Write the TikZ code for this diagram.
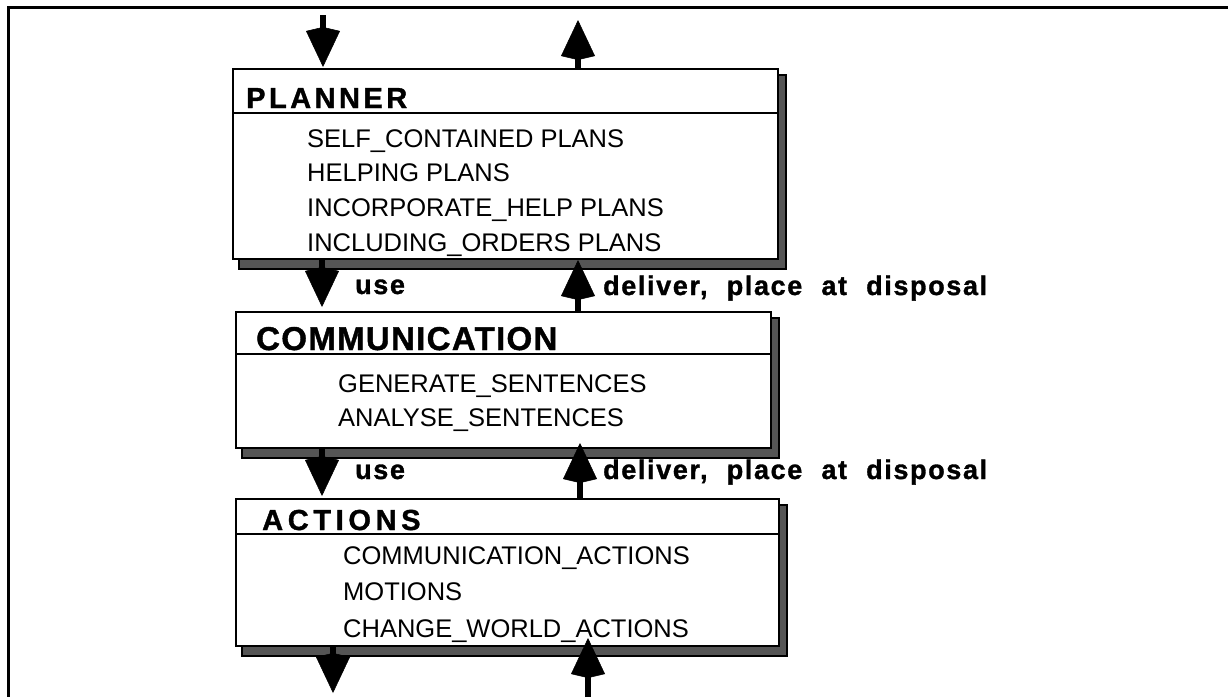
\documentclass[tikz,border=0pt]{standalone}
\usepackage{fontspec}
\setmainfont{Liberation Sans}
\newfontfamily\flowfont[LetterSpace=6,WordSpace=2.1,FakeBold=1.2]{Liberation Sans}
\usetikzlibrary{arrows.meta,calc,backgrounds}

% header of a layer box: size and letter spacing
\newcommand\layerhead[3]{\bfseries\fontsize{#1}{#1}\selectfont\addfontfeatures{LetterSpace=#2,FakeBold=1.2}#3}
% entries listed inside a layer box
\newcommand\layeritem{\fontsize{25.5}{30}\selectfont}
% labels beside the flow arrows
\newcommand\flowlabel{\flowfont\bfseries\fontsize{27}{30}\selectfont}

\tikzset{
  layerbox/.style={draw, line width=2pt, fill=white, rectangle, inner sep=0pt, anchor=north west},
  shadebox/.style={draw=black, line width=1.5pt, fill={rgb,255:red,85;green,85;blue,85}},
  sepline/.style={line width=2pt},
  txt/.style={inner sep=0pt, anchor=base west},
  flow/.style={line width=6pt, -{Kite[length=40pt,width=34pt,inset=4pt,line width'=0.5pt]}},
  frameline/.style={line width=3pt},
}

\begin{document}
\begin{tikzpicture}[x=1pt,y=-1pt]
\useasboundingbox (0,0) rectangle (1228,697);

% open frame: top and left edges only
\coordinate (f1) at (1228,7);
\coordinate (f2) at (8,7);
\coordinate (f3) at (8,697);
\draw[frameline] (f1) -- (f2) -- (f3);

% ---------------- PLANNER ----------------
\node[layerbox, minimum width=545pt, minimum height=190pt] (P) at (232,68) {};
\begin{scope}[on background layer]
  \draw[shadebox] ($(P.north west)+(7,7)$) rectangle ($(P.south east)+(7,9)$);
\end{scope}
\draw[sepline] ($(P.north west)+(0,45)$) -- ($(P.north east)+(0,45)$);
\node[txt] (Ph) at (246,108) {\layerhead{29}{12}{PLANNER}};
\node[txt] (P1) at (307,147) {\layeritem SELF\_CONTAINED PLANS};
\node[txt] (P2) at (307,181) {\layeritem HELPING PLANS};
\node[txt] (P3) at (307,216) {\layeritem INCORPORATE\_HELP PLANS};
\node[txt] (P4) at (307,251) {\layeritem INCLUDING\_ORDERS PLANS};

% ---------------- COMMUNICATION ----------------
\node[layerbox, minimum width=535pt, minimum height=136pt] (C) at (235,311) {};
\begin{scope}[on background layer]
  \draw[shadebox] ($(C.north west)+(7,7)$) rectangle ($(C.south east)+(7,9)$);
\end{scope}
\draw[sepline] ($(C.north west)+(0,43)$) -- ($(C.north east)+(0,43)$);
\node[txt] (Ch) at (256,350) {\layerhead{33}{4}{COMMUNICATION}};
\node[txt] (C1) at (338,392) {\layeritem GENERATE\_SENTENCES};
\node[txt] (C2) at (338,426) {\layeritem ANALYSE\_SENTENCES};

% ---------------- ACTIONS ----------------
\node[layerbox, minimum width=543pt, minimum height=147pt] (A) at (235,498) {};
\begin{scope}[on background layer]
  \draw[shadebox] ($(A.north west)+(7,7)$) rectangle ($(A.south east)+(7,9)$);
\end{scope}
\draw[sepline] ($(A.north west)+(0,36)$) -- ($(A.north east)+(0,36)$);
\node[txt] (Ah) at (262,530) {\layerhead{29}{16}{ACTIONS}};
\node[txt] (A1) at (343,564) {\layeritem COMMUNICATION\_ACTIONS};
\node[txt] (A2) at (343,600) {\layeritem MOTIONS};
\node[txt] (A3) at (343,637) {\layeritem CHANGE\_WORLD\_ACTIONS};

% ---------------- flow arrows ----------------
\coordinate (in0)  at (323,15);
\coordinate (in0t) at (323,67);
\coordinate (out0) at (578,68);
\coordinate (out0t) at (578,20);
\draw[flow] (in0) -- (in0t);
\draw[flow] (out0) -- (out0t);

\coordinate (u1s) at (322,258);
\coordinate (u1t) at (322,307);
\coordinate (d1s) at (578,311);
\coordinate (d1t) at (578,260);
\draw[flow] (u1s) -- (u1t);
\draw[flow] (d1s) -- (d1t);
\node[txt] (U1) at (355,294) {\flowlabel use};
\node[txt] (D1) at (603,295) {\flowlabel deliver, place at disposal};

\coordinate (u2s) at (322,447);
\coordinate (u2t) at (322,496);
\coordinate (d2s) at (580,498);
\coordinate (d2t) at (580,443);
\draw[flow] (u2s) -- (u2t);
\draw[flow] (d2s) -- (d2t);
\node[txt] (U2) at (355,479) {\flowlabel use};
\node[txt] (D2) at (603,479) {\flowlabel deliver, place at disposal};

\coordinate (u3s) at (333,645);
\coordinate (u3t) at (333,693);
\coordinate (d3s) at (588,697);
\coordinate (d3t) at (588,638);
\draw[flow] (u3s) -- (u3t);
\draw[flow] (d3s) -- (d3t);
\end{tikzpicture}
\end{document}
